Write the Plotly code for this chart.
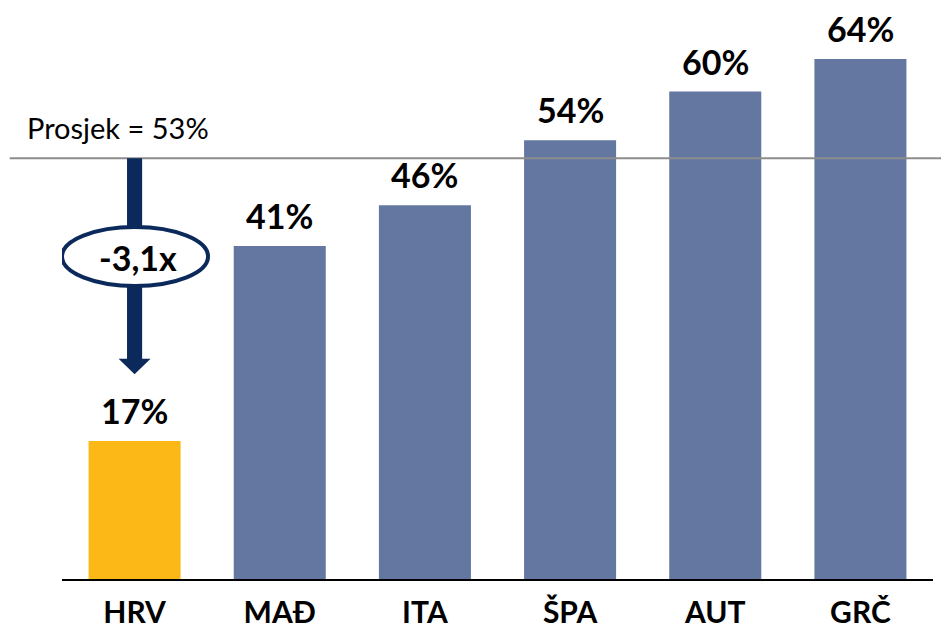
import plotly.graph_objects as go

countries = ["HRV", "MAĐ", "ITA", "ŠPA", "AUT", "GRČ"]
shares = [17, 41, 46, 54, 60, 64]
bar_colors = ["#FBB817", "#6477A1", "#6477A1", "#6477A1", "#6477A1", "#6477A1"]
average = 53
average_line_level = 51.8
ratio_label = "-3,1x"

NAVY = "#0B2A5B"
FONT = "Lato"

fig = go.Figure()
fig.add_trace(go.Bar(
    x=list(range(len(countries))), y=shares,
    marker_color=bar_colors, marker_line_width=0,
    hoverinfo="skip",
))

# value labels above bars
for i, v in enumerate(shares):
    fig.add_annotation(x=i, y=v, text=f"<b>{v}%</b>", showarrow=False,
                       yanchor="bottom", yshift=8,
                       font=dict(family=FONT, size=34, color="black"))

# average line (runs over the bars, wider than the plot)
fig.add_shape(type="line", xref="paper", yref="y",
              x0=-0.06, x1=1.03, y0=average_line_level, y1=average_line_level,
              line=dict(color="#8C8C8C", width=2), layer="above")
fig.add_annotation(xref="paper", yref="y", x=-0.043, y=average_line_level,
                   text=f"Prosjek = {average}%", showarrow=False,
                   xanchor="left", yanchor="bottom", yshift=11,
                   font=dict(family=FONT, size=29, color="black"))

# arrow from the average down to HRV
fig.add_shape(type="path", xref="x", yref="y", layer="above",
              path="M -0.052 51.8 L 0.052 51.8 L 0.052 27.1 L 0.11 27.1 "
                   "L 0 25.2 L -0.11 27.1 L -0.052 27.1 Z",
              fillcolor=NAVY, line=dict(width=0))
fig.add_shape(type="circle", xref="x", yref="y", layer="above",
              x0=-0.5, x1=0.506, y0=36.06, y1=43.32,
              fillcolor="white", line=dict(color=NAVY, width=4))
fig.add_annotation(x=0.023, y=39.6, text=f"<b>{ratio_label}</b>", showarrow=False,
                   font=dict(family=FONT, size=34, color="black"))

# page body has an 8px margin, so the figure is sized to fit the window
fig.update_layout(
    width=941, height=622,
    margin=dict(l=54, r=16, t=0, b=51),
    plot_bgcolor="white", paper_bgcolor="white",
    showlegend=False, bargap=0.366,
    xaxis=dict(tickmode="array", tickvals=list(range(len(countries))),
               ticktext=[f"<b>{c}</b>" for c in countries],
               tickfont=dict(family=FONT, size=30, color="black"),
               ticklabelstandoff=6, automargin=False,
               showline=True, linecolor="black", linewidth=2,
               showgrid=False, zeroline=False, ticks="",
               range=[-0.5, len(countries) - 0.5]),
    yaxis=dict(range=[0, 70.28], visible=False, showgrid=False, zeroline=False),
)

fig.write_html("out.html")
